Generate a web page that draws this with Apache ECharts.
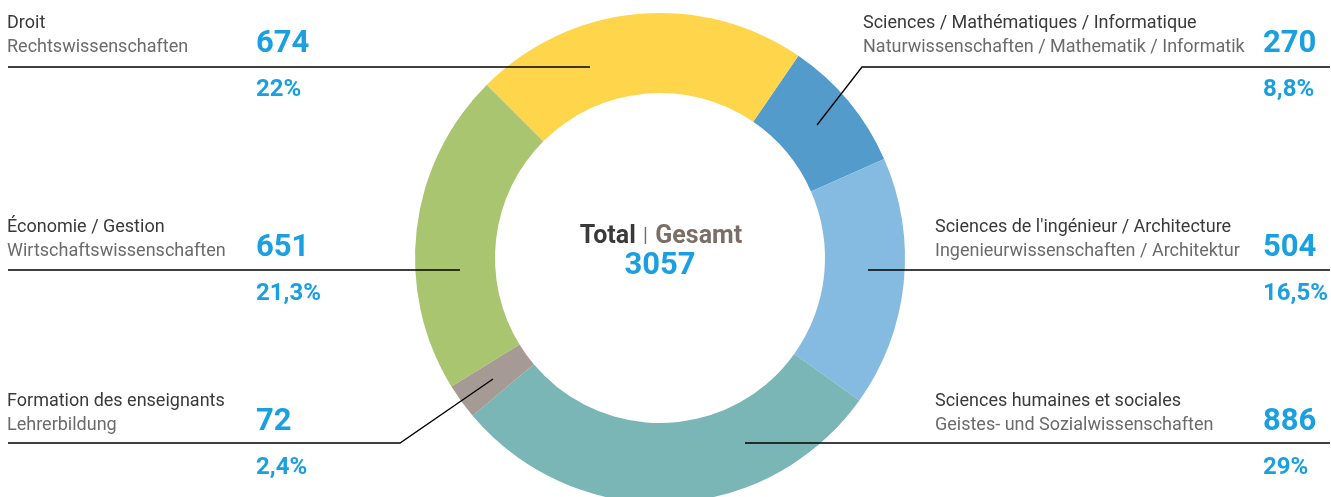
<!DOCTYPE html>
<html>
<head>
<meta charset="utf-8">
<script src="https://cdn.jsdelivr.net/npm/echarts@6/dist/echarts.min.js"></script>
<style>
html,body{margin:0;padding:0;background:#fff;}
#chart{width:1331px;height:497px;}
</style>
</head>
<body>
<div id="chart"></div>
<script>
// ---- data ----
const namesFr = ["Sciences / Mathématiques / Informatique", "Sciences de l'ingénieur / Architecture", "Sciences humaines et sociales", "Formation des enseignants", "Économie / Gestion", "Droit"];
const namesDe = ["Naturwissenschaften / Mathematik / Informatik", "Ingenieurwissenschaften / Architektur", "Geistes- und Sozialwissenschaften", "Lehrerbildung", "Wirtschaftswissenschaften", "Rechtswissenschaften"];
const values = [270, 504, 886, 72, 651, 674];
const percentLabels = ["8,8%", "16,5%", "29%", "2,4%", "21,3%", "22%"];
const colors = ["#529BCB", "#86BBE1", "#7AB6B5", "#A69A95", "#A9C56F", "#FFD54B"];
const totalValue = 3057;

// ---- layout (annotation positions) ----
const BLUE = "#1A9FE0";
const FONT = "Roboto, 'Liberation Sans', sans-serif";
const blocks = [
  {tx: 863, ty: 23, nx: 1263, line: [[1330, 67], [862, 67], [817, 125]]},
  {tx: 935, ty: 227, nx: 1263, line: [[1330, 270], [868, 270]]},
  {tx: 935, ty: 401, nx: 1263, line: [[1330, 443], [745, 443]]},
  {tx: 7, ty: 401, nx: 256, line: [[8, 443], [400, 443], [493, 379]]},
  {tx: 7, ty: 227, nx: 256, line: [[8, 270], [460, 270]]},
  {tx: 7, ty: 23, nx: 256, line: [[8, 67], [590, 67]]}
];

const graphics = [];
blocks.forEach((b, i) => {
  graphics.push({type: 'text', x: b.tx, y: b.ty, z: 10,
    style: {text: namesFr[i], fill: '#3a3a3a', font: '18px ' + FONT, verticalAlign: 'middle'}});
  graphics.push({type: 'text', x: b.tx, y: b.ty + 24, z: 10,
    style: {text: namesDe[i], fill: '#6b6b6b', font: '18px ' + FONT, verticalAlign: 'middle'}});
  graphics.push({type: 'text', x: b.nx, y: b.ty + 21, z: 10,
    style: {text: String(values[i]), fill: BLUE, font: 'bold 31px ' + FONT, verticalAlign: 'middle'}});
  graphics.push({type: 'text', x: b.nx, y: b.ty + 67, z: 10,
    style: {text: percentLabels[i], fill: BLUE, font: 'bold 24px ' + FONT, verticalAlign: 'middle'}});
  graphics.push({type: 'polyline', z: 20,
    shape: {points: b.line}, style: {stroke: '#000', lineWidth: 1.3, fill: null}});
});

// centre text
graphics.push({type: 'text', x: 661, y: 237, z: 10,
  style: {text: '{a|Total} {b||} {c|Gesamt}', align: 'center', verticalAlign: 'middle',
    rich: {
      a: {fill: '#3a3a3a', font: 'bold 25px ' + FONT},
      b: {fill: '#7a6e66', font: '20px ' + FONT, padding: [0, 4, 0, 4]},
      c: {fill: '#7a6e66', font: 'bold 25px ' + FONT}
    }}});
graphics.push({type: 'text', x: 660, y: 266, z: 10,
  style: {text: String(totalValue), align: 'center', verticalAlign: 'middle', fill: BLUE, font: 'bold 31px ' + FONT}});

const chart = echarts.init(document.getElementById('chart'), null, {renderer: 'canvas'});
chart.setOption({
  animation: false,
  backgroundColor: '#fff',
  series: [{
    type: 'pie',
    center: [660, 258],
    radius: [165, 245],
    startAngle: 55.6,
    clockwise: true,
    silent: true,
    label: {show: false},
    labelLine: {show: false},
    itemStyle: {borderWidth: 0},
    data: values.map((v, i) => ({value: v, name: namesFr[i], itemStyle: {color: colors[i]}}))
  }],
  graphic: graphics
});
</script>
</body>
</html>
